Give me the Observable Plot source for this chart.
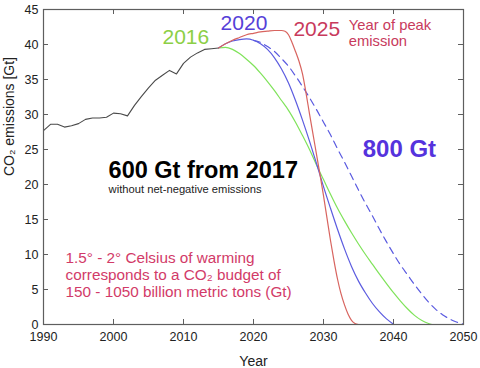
<!DOCTYPE html>
<html><head><meta charset="utf-8">
<script src="https://cdn.jsdelivr.net/npm/d3@7"></script>
<script src="https://cdn.jsdelivr.net/npm/@observablehq/plot@0.6"></script>
<style>html,body{margin:0;padding:0;background:#fff}svg{display:block}</style>
</head><body><div id="chart"></div>
<script>
// Historical global CO2 emissions [Gt]
const historicalYears = [1990,1991,1992,1993,1994,1995,1996,1997,1998,1999,2000,2001,2002,2003,2004,2005,2006,2007,2008,2009,2010,2011,2012,2013,2014,2015];
const historicalEmissions = [27.7,28.6,28.6,28.2,28.4,28.7,29.3,29.5,29.5,29.6,30.2,30.1,29.8,31.3,32.6,33.8,34.9,35.6,36.3,35.8,37.3,38.2,38.8,39.3,39.4,39.5];

// Scenario: peak in 2016 (600 Gt)
const peak2016Years = [2015,2016,2017,2018,2019,2020,2021,2022,2023,2024,2025,2026,2027,2028,2029,2030,2031,2032,2033,2034,2035,2036,2037,2038,2039,2040,2041,2042,2043,2044,2045,2045.5];
const peak2016Values = [39.5,39.6,39.3,38.7,37.9,37.0,35.9,34.7,33.4,32.0,30.6,28.9,27.0,25.0,22.8,20.7,18.6,16.6,14.8,13.1,11.5,10.0,8.6,7.2,5.85,4.55,3.35,2.25,1.3,0.6,0.15,0];

// Scenario: peak in 2020 (600 Gt)
const peak2020Years = [2015,2016,2017,2018,2019,2020,2021,2022,2023,2024,2025,2026,2027,2028,2029,2030,2031,2032,2033,2034,2035,2036,2037,2038,2039,2040];
const peak2020Values = [39.5,40.1,40.5,40.7,40.8,40.6,40.1,39.3,38.1,36.5,34.5,32.0,29.2,26.2,23.0,19.7,16.6,13.6,10.8,8.3,6.2,4.5,3.0,1.8,0.8,0.05];

// Scenario: peak in 2025 (600 Gt)
const peak2025Years = [2015,2016,2017,2018,2019,2020,2021,2022,2023,2024,2024.5,2025,2025.5,2026,2026.5,2027,2027.5,2028,2028.5,2029,2029.5,2030,2030.5,2031,2031.5,2032,2032.5,2033,2033.5,2034,2034.5,2035];
const peak2025Values = [39.5,40.1,40.6,41.0,41.4,41.6,41.8,41.9,42.0,42.0,41.9,41.4,40.3,39.0,37.6,35.8,33.1,30.1,27.2,24.3,21.4,18.4,15.2,12.0,9.1,6.5,4.4,2.8,1.5,0.6,0.15,0];

// Scenario: peak in 2020 with 800 Gt budget (dashed)
const budget800Years = [2020,2021,2022,2023,2024,2025,2026,2027,2028,2029,2030,2031,2032,2033,2034,2035,2036,2037,2038,2039,2040,2041,2042,2043,2044,2045,2046,2047,2048,2049,2050];
const budget800Values = [40.6,40.3,39.7,39.0,38.0,36.9,35.5,34.0,32.4,30.7,28.9,27.1,25.1,23.2,21.2,19.2,17.3,15.5,13.6,11.8,10.1,8.5,7.1,5.7,4.4,3.2,2.2,1.4,0.8,0.35,0.05];

const xTicks = [1990,2000,2010,2020,2030,2040,2050];
const yTicks = [0,5,10,15,20,25,30,35,40,45];

const peakLabels = ["2016","2020","2025"];
const peakNote = "Year of peak\nemission";
const budgetTitle = "600 Gt from 2017";
const budgetSub = "without net-negative emissions";
const altBudget = "800 Gt";
const warmingNote = "1.5° - 2° Celsius of warming\ncorresponds to a CO₂ budget of\n150 - 1050 billion metric tons (Gt)";
const xLabel = "Year";
const yLabel = "CO₂ emissions [Gt]";

const rows = (xs, ys) => xs.map((x, i) => ({year: x, value: ys[i]}));

const W = 480, H = 368;
const mT = 9, mR = 17, mB = 44, mL = 43;
const innerW = W - mL - mR, innerH = H - mT - mB;
const tk = 5;
const axisColor = "#5e5e5e";
const font = "'Liberation Sans', Arial, Helvetica, sans-serif";

const chart = Plot.plot({
  width: W, height: H,
  marginTop: mT, marginRight: mR, marginBottom: mB, marginLeft: mL,
  style: {fontFamily: font, background: "#fff", color: "#222"},
  x: {domain: [1990, 2050]},
  y: {domain: [0, 45]},
  marks: [
    Plot.line(rows(historicalYears, historicalEmissions), {x: "year", y: "value", stroke: "#4a4a4a", strokeWidth: 1.1}),
    Plot.line(rows(peak2016Years, peak2016Values), {x: "year", y: "value", stroke: "#7fe35a", strokeWidth: 1.2, curve: "monotone-x"}),
    Plot.line(rows(budget800Years, budget800Values), {x: "year", y: "value", stroke: "#5a5ae0", strokeWidth: 1.2, strokeDasharray: "7,5", curve: "monotone-x"}),
    Plot.line(rows(peak2020Years, peak2020Values), {x: "year", y: "value", stroke: "#5c5ce0", strokeWidth: 1.2, curve: "monotone-x"}),
    Plot.line(rows(peak2025Years, peak2025Values), {x: "year", y: "value", stroke: "#d8645f", strokeWidth: 1.2, curve: "monotone-x"}),
    Plot.frame({stroke: axisColor, strokeWidth: 1.2}),
    Plot.ruleX(xTicks, {insetTop: innerH - tk, stroke: axisColor}),
    Plot.ruleX(xTicks, {insetBottom: innerH - tk, stroke: axisColor}),
    Plot.ruleY(yTicks, {insetRight: innerW - tk, stroke: axisColor}),
    Plot.ruleY(yTicks, {insetLeft: innerW - tk, stroke: axisColor}),
    Plot.axisX({ticks: xTicks, tickSize: 0, tickPadding: 8, tickFormat: d => String(d), fontSize: 12.5, label: null}),
    Plot.axisY({ticks: yTicks, tickSize: 0, tickPadding: 5, fontSize: 12.5, label: null}),
    Plot.text([xLabel], {frameAnchor: "bottom", dy: 41, lineAnchor: "bottom", fontSize: 14}),
    Plot.text([yLabel], {frameAnchor: "left", rotate: -90, dx: -34, dy: 9, fontSize: 14}),
    Plot.text([peakLabels[0]], {x: 2007.0, y: 40.1, textAnchor: "start", lineAnchor: "bottom", fontSize: 21, fill: "#8ccf46"}),
    Plot.text([peakLabels[1]], {x: 2015.3, y: 42.1, textAnchor: "start", lineAnchor: "bottom", fontSize: 21, fill: "#5540d8"}),
    Plot.text([peakLabels[2]], {x: 2025.7, y: 41.2, textAnchor: "start", lineAnchor: "bottom", fontSize: 21, fill: "#c83a5c"}),
    Plot.text([peakNote], {x: 2033.6, y: 39.75, textAnchor: "start", lineAnchor: "bottom", fontSize: 14.8, lineHeight: 1.08, fill: "#c83a5c"}),
    Plot.text([budgetTitle], {x: 1999.3, y: 21.0, textAnchor: "start", lineAnchor: "bottom", fontSize: 23.5, fontWeight: "bold", fill: "#000"}),
    Plot.text([budgetSub], {x: 1999.3, y: 18.76, textAnchor: "start", lineAnchor: "bottom", fontSize: 11.2, fill: "#222"}),
    Plot.text([altBudget], {x: 2035.6, y: 23.9, textAnchor: "start", lineAnchor: "bottom", fontSize: 24, fontWeight: "bold", fill: "#5533dd"}),
    Plot.text([warmingNote], {x: 1993.15, y: 3.86, textAnchor: "start", lineAnchor: "bottom", fontSize: 15.3, lineHeight: 1.12, fill: "#d23a68"})
  ]
});
document.getElementById("chart").appendChild(chart);
</script>
</body></html>
